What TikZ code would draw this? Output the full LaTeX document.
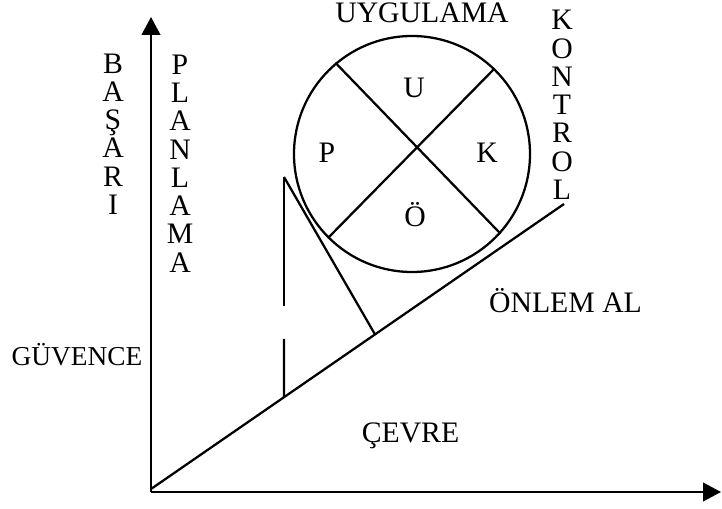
\documentclass[tikz,border=0pt]{standalone}
\usepackage{fontspec}
\setmainfont{Liberation Serif}
\usetikzlibrary{arrows.meta,calc}
\begin{document}
\begin{tikzpicture}[x=0.75pt,y=-0.75pt,
  line/.style={line width=1.7pt},
  axisarrow/.style={line,-{Triangle[length=13.5pt,width=14pt]}},
  lbl/.style={inner sep=0pt,font=\fontsize{22.3}{21.2}\selectfont},
  stack/.style={lbl,align=center},
  baselbl/.style={lbl,anchor=base}]
\useasboundingbox (0,0) rectangle (722,509);
% axes
\coordinate (O) at (151,492);
\coordinate (Ytip) at (151,17);
\coordinate (Xtip) at (721,492);
\draw[axisarrow] (O) -- (Ytip);
\draw[axisarrow] (O) -- (Xtip);
% diagonal
\coordinate (Dstart) at (151,489);
\coordinate (Dend) at (564,204);
\draw[line] (Dstart) -- (Dend);
% circle with cross
\node[circle,draw,line width=1.7pt,minimum size=177pt,inner sep=0pt] (c) at (412,154) {};
\draw[line] (c.130) -- (c.-42);
\draw[line] (c.46) -- (c.225);
% tangent construction
\coordinate (T) at (284,177);
\coordinate (Gtop) at (284,306);
\coordinate (Gbot) at (284,339);
\coordinate (B) at ($(Dstart)!0.322!(Dend)$);
\coordinate (S) at ($(Dstart)!0.5424!(Dend)$);
\draw[line] (T) -- (Gtop);
\draw[line] (Gbot) -- (B);
\draw[line] (T) -- (S);
% labels
\node[baselbl] (uyg) at (422,23) {UYGULAMA};
\node[baselbl] (u) at (414,98) {U};
\node[baselbl] (p) at (327,163) {P};
\node[baselbl] (k) at (487,163) {K};
\node[baselbl] (oe) at (415,227) {Ö};
\node[baselbl] (onlem) at (565.5,313) {ÖNLEM AL};
\node[baselbl,font=\fontsize{20.5}{21.2}\selectfont] (guv) at (77,366) {GÜVENCE};
\node[baselbl] (cevre) at (410.5,443) {ÇEVRE};
\node[stack] (basari) at (113,134) {B\\A\\Ş\\A\\R\\I};
\node[stack] (plan) at (180,163.5) {P\\L\\A\\N\\L\\A\\M\\A};
\node[stack] (kont) at (562,105) {K\\O\\N\\T\\R\\O\\L};
\end{tikzpicture}
\end{document}
